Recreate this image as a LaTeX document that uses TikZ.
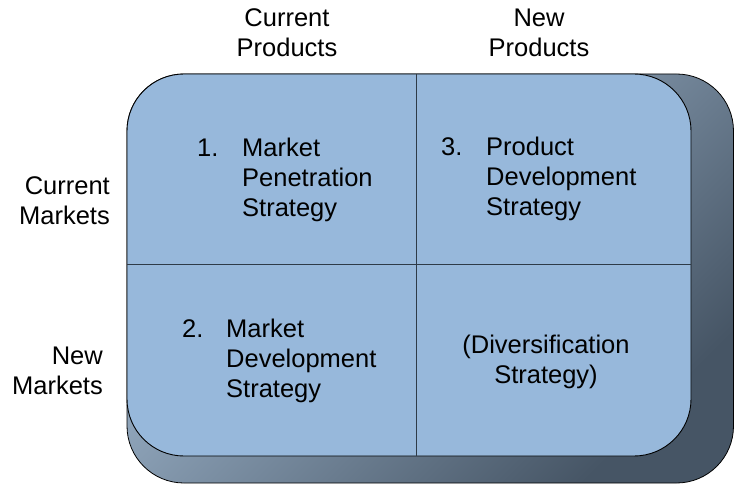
\documentclass[tikz,border=0pt]{standalone}
\usepackage{fontspec}
\setmainfont{Liberation Sans}
\definecolor{frontfill}{HTML}{97B8DB}
\definecolor{backlight}{HTML}{AAC2DA}
\definecolor{backdark}{HTML}{465565}
\definecolor{divline}{HTML}{2E3B48}
\begin{document}
\begin{tikzpicture}[x=1bp,y=-1bp,
  lbl/.style={inner sep=0pt,font=\fontsize{25.5bp}{30bp}\selectfont,text=black},
  divider/.style={draw=divline,line width=1.6bp}]
\useasboundingbox (0,0) rectangle (735,484);
% extruded back
\shade[top color=backlight,bottom color=backdark,shading angle=45,draw=black,line width=0.8bp,rounded corners=57bp]
  (127,74) rectangle (733.5,483);
% front face
\filldraw[fill=frontfill,draw=black,line width=0.9bp,rounded corners=57bp]
  (127,74) rectangle (691,456);
\coordinate (vt) at (416.5,74);
\coordinate (vb) at (416.5,456);
\coordinate (hl) at (127,264.5);
\coordinate (hr) at (691,264.5);
\draw[divider] (vt) -- (vb);
\draw[divider] (hl) -- (hr);
% column headers
\node[lbl,anchor=base] (cp1) at (287,27) {Current};
\node[lbl,anchor=base] (cp2) at (287,57) {Products};
\node[lbl,anchor=base] (np1) at (539,27) {New};
\node[lbl,anchor=base] (np2) at (539,57) {Products};
% row headers
\node[lbl,anchor=base east] (cm1) at (110,195) {Current};
\node[lbl,anchor=base east] (cm2) at (110,225) {Markets};
\node[lbl,anchor=base east] (nm1) at (103,364) {New};
\node[lbl,anchor=base east] (nm2) at (103,394) {Markets};
% cell 1
\node[lbl,anchor=base west] (n1) at (197,157) {1.};
\node[lbl,anchor=base west] (a1) at (242,157) {Market};
\node[lbl,anchor=base west] (a2) at (242,187) {Penetration};
\node[lbl,anchor=base west] (a3) at (242,217) {Strategy};
% cell 3
\node[lbl,anchor=base west] (n3) at (441,156) {3.};
\node[lbl,anchor=base west] (b1) at (486,156) {Product};
\node[lbl,anchor=base west] (b2) at (486,186) {Development};
\node[lbl,anchor=base west] (b3) at (486,216) {Strategy};
% cell 2
\node[lbl,anchor=base west] (n2) at (182,337) {2.};
\node[lbl,anchor=base west] (c1) at (226,337) {Market};
\node[lbl,anchor=base west] (c2) at (226,367) {Development};
\node[lbl,anchor=base west] (c3) at (226,397) {Strategy};
% cell 4
\node[lbl,anchor=base] (d1) at (546,353) {(Diversification};
\node[lbl,anchor=base] (d2) at (546,383) {Strategy)};
\end{tikzpicture}
\end{document}
